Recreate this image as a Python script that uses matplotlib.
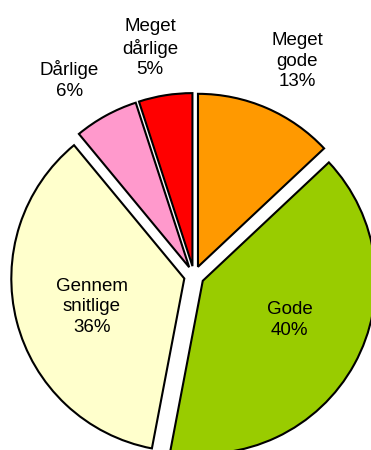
import numpy as np
import matplotlib
matplotlib.use("Agg")
import matplotlib.pyplot as plt

plt.rcParams['font.family'] = ['Liberation Sans', 'DejaVu Sans']

# survey answers, clockwise from 12 o'clock
labels = ["Meget\ngode", "Gode", "Gennem\nsnitlige", "Dårlige", "Meget\ndårlige"]
shares = [13, 40, 36, 6, 5]
colors = ["#FF9900", "#99CC00", "#FFFFCC", "#FF99CC", "#FF0000"]

# axes are laid out in pixel units so the pie can run off the bottom edge
fig = plt.figure(figsize=(3.71, 4.5), dpi=100)
ax = fig.add_axes([0, 0, 1, 1])

R = 173
wedges, _ = ax.pie(shares, colors=colors, startangle=90, counterclock=False,
                   radius=R, center=(194, -276), explode=[10] * len(shares),
                   wedgeprops=dict(edgecolor='black', linewidth=1.5),
                   frame=True)
ax.set_xlim(0, 371)
ax.set_ylim(-450, 0)
ax.set_aspect('equal')
ax.axis('off')

# label distance (in radii) and a small angle nudge for each slice
dist = [1.32, 0.55, 0.56, 1.285, 1.285]
nudge = [-2.4, 4.4, 2.6, 3.8, 2.0]
for w, lab, pct, d, dn in zip(wedges, labels, shares, dist, nudge):
    ang = np.deg2rad((w.theta1 + w.theta2) / 2 + dn)
    x = w.center[0] + d * R * np.cos(ang)
    y = w.center[1] + d * R * np.sin(ang)
    ax.text(x, y, f"{lab}\n{pct}%", ha='center', va='center',
            fontsize=13.5, linespacing=1.25)

fig.savefig("out.png", dpi=100)
